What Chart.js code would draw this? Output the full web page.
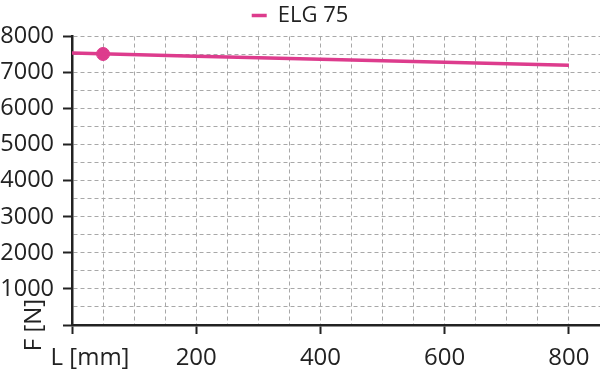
<!DOCTYPE html>
<html>
<head>
<meta charset="utf-8">
<script src="https://cdn.jsdelivr.net/npm/chart.js@4.4.1/dist/chart.umd.min.js"></script>
<style>
  html, body { margin: 0; padding: 0; background: #fff; }
  #wrap { width: 600px; height: 373px; position: relative; }
</style>
</head>
<body>
<div id="wrap"><canvas id="c"></canvas></div>
<script>
// values
var lengths = [0, 200, 400, 600, 800];          // L [mm]
var forces = [7540, 7455, 7372, 7289, 7205];    // F [N]
var markerLengths = [50];
var markerForces = [7515];
var seriesName = "ELG 75";
var xTitle = "L [mm]";
var yTitle = "F [N]";

var pink = "#dd3c8d";
var ink = "#222222";
var font = "'Open Sans', 'Noto Sans', sans-serif";

var toPoints = function (xs, ys) {
    return xs.map(function (x, i) { return { x: x, y: ys[i] }; });
};

// axis titles sit in the corner below the origin, not along the axes
var cornerTitles = {
    id: "cornerTitles",
    afterDraw: function (chart) {
        var ctx = chart.ctx;
        var xs = chart.scales.x, ys = chart.scales.y;
        var y0 = ys.getPixelForValue(0);
        ctx.save();
        ctx.fillStyle = ink;
        ctx.font = "24px " + font;
        ctx.textAlign = "center";
        ctx.textBaseline = "middle";
        ctx.fillText(xTitle, xs.left + 18, y0 + 33);
        ctx.translate(xs.left - 38, y0);
        ctx.rotate(-Math.PI / 2);
        ctx.fillText(yTitle, 0, 0);
        ctx.restore();
    }
};

var majorTick = function (step) {
    return function (c) {
        return c.tick && c.tick.value % step === 0 ? ink : "rgba(0,0,0,0)";
    };
};

new Chart(document.getElementById("c"), {
    type: "line",
    data: {
        datasets: [{
            label: seriesName,
            data: toPoints(lengths, forces),
            borderColor: pink,
            backgroundColor: pink,
            borderWidth: 3.5,
            pointRadius: 0,
            tension: 0
        }, {
            label: "marker",
            data: toPoints(markerLengths, markerForces),
            showLine: false,
            borderColor: pink,
            backgroundColor: pink,
            pointRadius: 6.5,
            pointHoverRadius: 6.5
        }]
    },
    options: {
        responsive: true,
        maintainAspectRatio: false,
        animation: false,
        layout: { autoPadding: false, padding: { left: 0, right: 0, top: -7, bottom: 0 } },
        plugins: {
            tooltip: { enabled: false },
            legend: {
                position: "top",
                labels: {
                    color: ink,
                    font: { family: font, size: 22 },
                    usePointStyle: true,
                    pointStyle: "line",
                    pointStyleWidth: 15,
                    padding: 0,
                    filter: function (item) { return item.text === seriesName; }
                }
            }
        },
        scales: {
            x: {
                type: "linear",
                min: 0,
                max: 850,
                afterFit: function (s) {
                    s.height = 48;
                    s.paddingLeft = 0;
                    s.paddingRight = 0;
                },
                border: { color: ink, width: 2.5, dash: [4, 3] },
                grid: {
                    color: "#a8a8a8",
                    lineWidth: 1,
                    tickLength: 9,
                    tickWidth: 2,
                    tickColor: majorTick(200),
                    tickBorderDash: []
                },
                ticks: {
                    stepSize: 50,
                    autoSkip: false,
                    maxRotation: 0,
                    minRotation: 0,
                    padding: 10,
                    color: ink,
                    font: { family: font, size: 24 },
                    callback: function (v) { return v % 200 === 0 && v !== 0 ? v : ""; }
                }
            },
            y: {
                type: "linear",
                min: 0,
                max: 8000,
                afterFit: function (s) {
                    s.width = 72;
                    s.paddingTop = 36.5;
                },
                border: { color: ink, width: 2.5, dash: [4, 3] },
                grid: {
                    color: "#a8a8a8",
                    lineWidth: 1,
                    tickLength: 9,
                    tickWidth: 2,
                    tickColor: majorTick(1000),
                    tickBorderDash: []
                },
                ticks: {
                    stepSize: 500,
                    autoSkip: false,
                    padding: 9,
                    color: ink,
                    font: { family: font, size: 23.5 },
                    callback: function (v) { return v % 1000 === 0 && v !== 0 ? v : ""; }
                }
            }
        }
    },
    plugins: [cornerTitles]
});
</script>
</body>
</html>
